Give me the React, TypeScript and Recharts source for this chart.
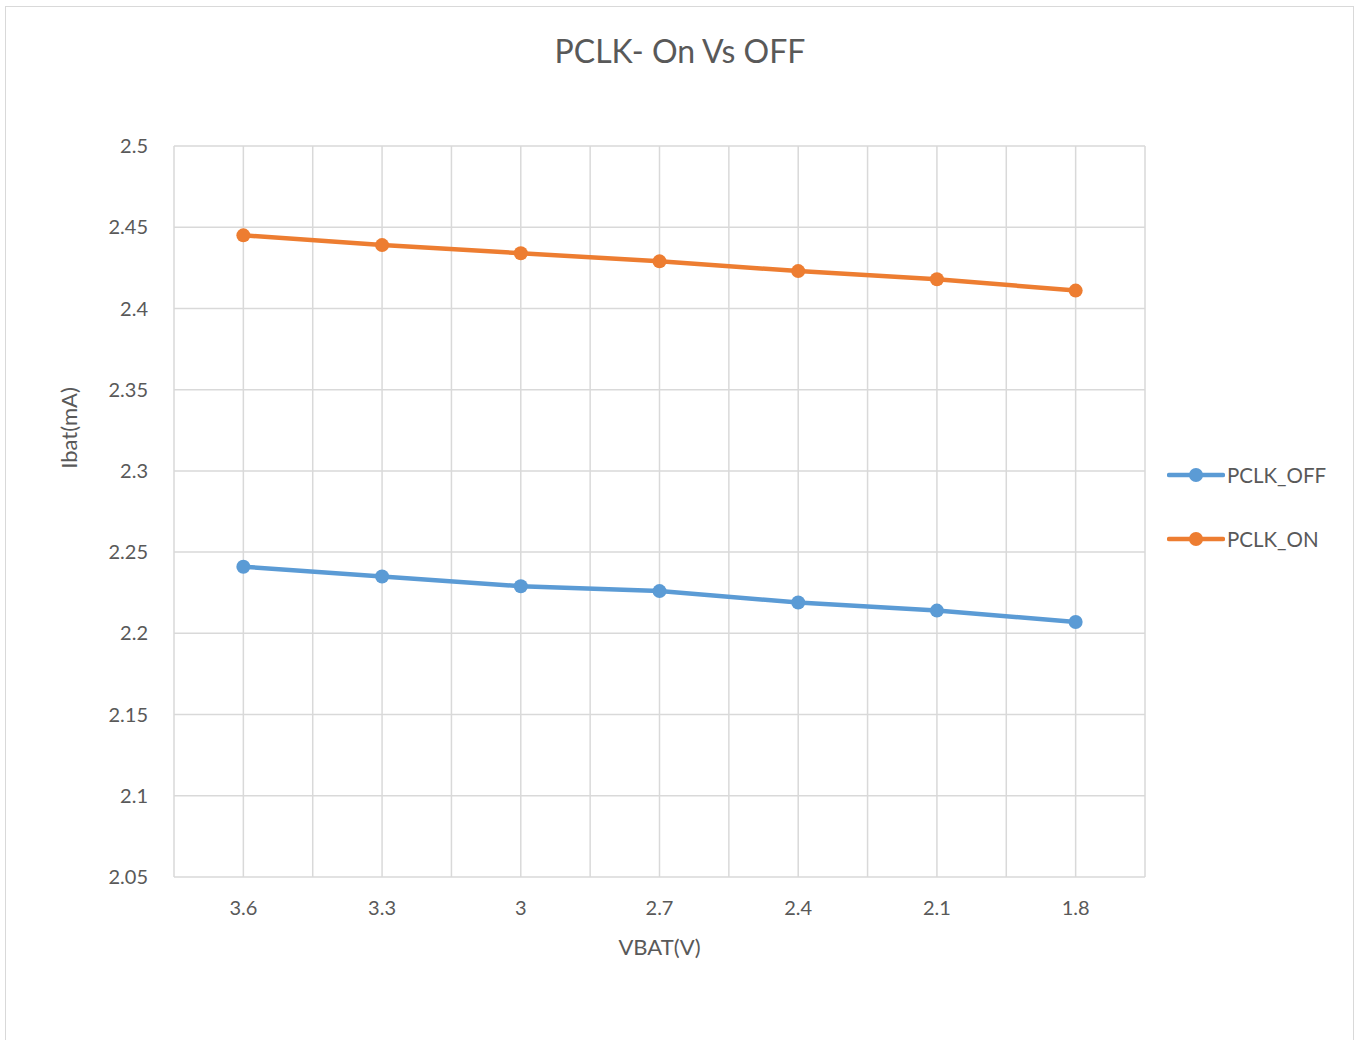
import React from 'react';
import { LineChart, Line, XAxis, YAxis, CartesianGrid } from 'recharts';

const vbat = ['3.6', '3.3', '3', '2.7', '2.4', '2.1', '1.8'];
const pclkOff = [2.241, 2.235, 2.229, 2.226, 2.219, 2.214, 2.207];
const pclkOn = [2.445, 2.439, 2.434, 2.429, 2.423, 2.418, 2.411];
const yTicks = [2.05, 2.1, 2.15, 2.2, 2.25, 2.3, 2.35, 2.4, 2.45, 2.5];

const OFF_COLOR = '#5B9BD5';
const ON_COLOR = '#ED7D31';
const TEXT = '#595959';
const FONT = 'Lato, "Open Sans", sans-serif';

const data = vbat.map((v, i) => ({ idx: i, label: v, off: pclkOff[i], on: pclkOn[i] }));

const series = [
  { key: 'off', name: 'PCLK_OFF', color: OFF_COLOR },
  { key: 'on', name: 'PCLK_ON', color: ON_COLOR },
];

function LegendBox() {
  return (
    <div style={{ position: 'absolute', left: 1167, top: 443, fontFamily: FONT }}>
      {series.map((s) => (
        <div key={s.key} style={{ display: 'flex', alignItems: 'center', height: 64 }}>
          <svg width={58} height={16}>
            <line x1={2} y1={8} x2={56} y2={8} stroke={s.color} strokeWidth={4.5} strokeLinecap="round" />
            <circle cx={29} cy={8} r={7} fill={s.color} />
          </svg>
          <span style={{ fontSize: 20.5, color: TEXT, marginLeft: 2 }}>{s.name}</span>
        </div>
      ))}
    </div>
  );
}

export default function App() {
  return (
    <div style={{ position: 'absolute', left: 0, top: 0, width: 1357, height: 1040, background: '#fff', overflow: 'hidden' }}>
      <div
        style={{
          position: 'absolute',
          left: 5,
          top: 6,
          width: 1347,
          height: 1050,
          border: '1.5px solid #d9d9d9',
        }}
      />
      <div
        style={{
          position: 'absolute',
          left: 0,
          top: 31,
          width: 1360,
          textAlign: 'center',
          fontFamily: FONT,
          fontSize: 32,
          color: TEXT,
        }}
      >
        PCLK- On Vs OFF
      </div>
      <div
        style={{
          position: 'absolute',
          left: 68,
          top: 428,
          transform: 'translate(-50%, -50%) rotate(-90deg)',
          fontFamily: FONT,
          fontSize: 22,
          color: TEXT,
          whiteSpace: 'nowrap',
        }}
      >
        Ibat(mA)
      </div>
      <div style={{ position: 'absolute', left: 0, top: 0 }}>
        <LineChart width={1357} height={1040} data={data} margin={{ top: 146, right: 212, bottom: 133, left: 114 }}>
          <CartesianGrid
            stroke="#d9d9d9"
            strokeWidth={1.5}
            horizontal
            vertical
            verticalCoordinatesGenerator={({ offset }: any) =>
              Array.from({ length: 15 }, (_, k) => offset.left + (offset.width * k) / 14)
            }
          />
          <XAxis
            type="number"
            dataKey="idx"
            domain={[-0.5, 6.5]}
            ticks={[0, 1, 2, 3, 4, 5, 6]}
            tickFormatter={(i: number) => vbat[i]}
            axisLine={false}
            tickLine={false}
            height={30}
            tick={{ fontSize: 20, fill: TEXT, fontFamily: FONT, dy: 16 }}
            label={{ value: 'VBAT(V)', position: 'insideBottom', offset: -48, fontSize: 22, fill: TEXT, fontFamily: FONT }}
          />
          <YAxis
            type="number"
            domain={[2.05, 2.5]}
            ticks={yTicks}
            interval={0}
            tickFormatter={(v: number) => String(Number(v.toFixed(2)))}
            axisLine={false}
            tickLine={false}
            width={60}
            tick={{ fontSize: 20, fill: TEXT, fontFamily: FONT, dx: -18 }}
          />
          {series.map((s) => (
            <Line
              key={s.key}
              type="linear"
              dataKey={s.key}
              name={s.name}
              stroke={s.color}
              strokeWidth={4.5}
              dot={{ r: 7, fill: s.color, stroke: s.color, strokeWidth: 0 }}
              activeDot={false}
              isAnimationActive={false}
            />
          ))}
        </LineChart>
      </div>
      <LegendBox />
    </div>
  );
}
